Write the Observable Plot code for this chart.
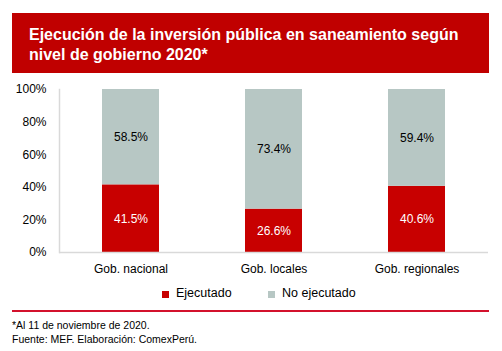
<!DOCTYPE html>
<html>
<head>
<meta charset="utf-8">
<script src="https://cdn.jsdelivr.net/npm/d3@7"></script>
<script src="https://cdn.jsdelivr.net/npm/@observablehq/plot@0.6"></script>
<style>
  html, body { margin: 0; padding: 0; background: #fff; }
  body { width: 502px; height: 351px; position: relative; overflow: hidden; font-family: "Liberation Sans", Arial, sans-serif; }
  #header { position: absolute; left: 12px; top: 13px; width: 477px; height: 60px; background: #c00000; box-sizing: border-box; padding: 12px 0 0 17px; color: #fff; font-weight: bold; font-size: 16px; line-height: 20px; }
  #chart { position: absolute; left: 0; top: 80px; }
  .leg { position: absolute; top: 286px; font-size: 12.5px; line-height: 14px; color: #000; white-space: nowrap; }
  .sw { position: absolute; top: 291px; width: 7px; height: 7px; }
  #rule { position: absolute; left: 12px; top: 310px; width: 477px; height: 2px; background: #d3112c; }
  #foot { position: absolute; left: 12px; top: 319px; font-size: 10.5px; line-height: 13.5px; color: #000; white-space: nowrap; }
</style>
</head>
<body>
<div id="header"></div>
<div id="chart"></div>
<div id="legend"></div>
<div id="rule"></div>
<div id="foot"></div>
<script>
const title = ["Ejecución de la inversión pública en saneamiento según", "nivel de gobierno 2020*"];
const categories = ["Gob. nacional", "Gob. locales", "Gob. regionales"];
const series = ["Ejecutado", "No ejecutado"];
const ejecutado = [41.5, 26.6, 40.6];
const noEjecutado = [58.5, 73.4, 59.4];
const yTicks = [0, 20, 40, 60, 80, 100];
const colors = ["#c80000", "#b7c7c4"];
const footnotes = ["*Al 11 de noviembre de 2020.", "Fuente: MEF. Elaboración: ComexPerú."];

document.getElementById("header").innerHTML = title.join("<br>");
document.getElementById("foot").innerHTML = footnotes.join("<br>");

const data = [];
categories.forEach((c, i) => {
  data.push({cat: c, series: series[0], value: ejecutado[i]});
  data.push({cat: c, series: series[1], value: noEjecutado[i]});
});

const chart = Plot.plot({
  width: 502,
  height: 200,
  marginLeft: 59,
  marginRight: 14,
  marginTop: 9,
  marginBottom: 28,
  style: {fontFamily: "'Liberation Sans', Arial, sans-serif", fontSize: "12px", color: "#000", background: "transparent"},
  x: {domain: categories, paddingInner: 0.6, paddingOuter: 0.3, label: null, tickSize: 0, tickPadding: 12},
  y: {domain: [0, 100], ticks: yTicks, tickFormat: d => d + "%", label: null, tickSize: 0, tickPadding: 13},
  color: {domain: series, range: colors},
  marks: [
    Plot.barY(data, {x: "cat", y: "value", fill: "series"}),
    Plot.text(data, Plot.stackY({x: "cat", y: "value", z: "series",
      text: d => d.value.toFixed(1) + "%",
      fill: d => d.series === series[0] ? "white" : "black",
      fontSize: 12})),
    Plot.ruleY([0], {stroke: "#d9d9d9", strokeWidth: 1.5}),
    Plot.frame({anchor: "left", stroke: "#d9d9d9", strokeWidth: 1.5})
  ]
});
document.getElementById("chart").appendChild(chart);

const legend = document.getElementById("legend");
const legPos = [{sw: 162, tx: 176}, {sw: 268, tx: 282}];
series.forEach((s, i) => {
  const sw = document.createElement("div");
  sw.className = "sw";
  sw.style.left = legPos[i].sw + "px";
  sw.style.background = colors[i];
  legend.appendChild(sw);
  const t = document.createElement("div");
  t.className = "leg";
  t.style.left = legPos[i].tx + "px";
  t.textContent = s;
  legend.appendChild(t);
});
</script>
</body>
</html>
